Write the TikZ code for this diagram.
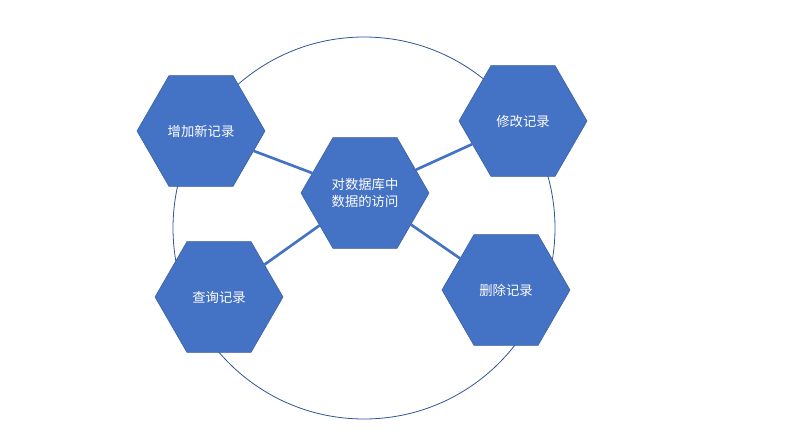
\documentclass[tikz,border=0pt]{standalone}
\usepackage{fontspec}
\newfontfamily\cjk{Noto Sans CJK SC}
\usetikzlibrary{shapes.geometric}
\definecolor{hexblue}{HTML}{4472C4}
\definecolor{ringblue}{HTML}{2F5597}
\begin{document}
\begin{tikzpicture}[x=0.75pt,y=-0.75pt]
\tikzstyle{hexa}=[regular polygon, regular polygon sides=6, fill=hexblue, draw=hexblue!80!black, inner sep=0pt, minimum size=128*0.75pt, text=white, font=\cjk\fontsize{10}{13}\selectfont, align=center]
\tikzstyle{link}=[draw=hexblue, line width=2pt]

\useasboundingbox (0,0) rectangle (794,447);
\draw[ringblue, line width=0.6pt] (364,228) circle (191*0.75pt);

\node[hexa] (mid) at (365,193) {对数据库中\\数据的访问};
\node[hexa] (add) at (201,131) {增加新记录};
\node[hexa] (edit) at (523,121) {修改记录};
\node[hexa] (query) at (219,297) {查询记录};
\node[hexa] (del) at (506,290) {删除记录};

\draw[link] (mid) -- (add);
\draw[link] (mid) -- (edit);
\draw[link] (mid) -- (query);
\draw[link] (mid) -- (del);
\end{tikzpicture}
\end{document}
